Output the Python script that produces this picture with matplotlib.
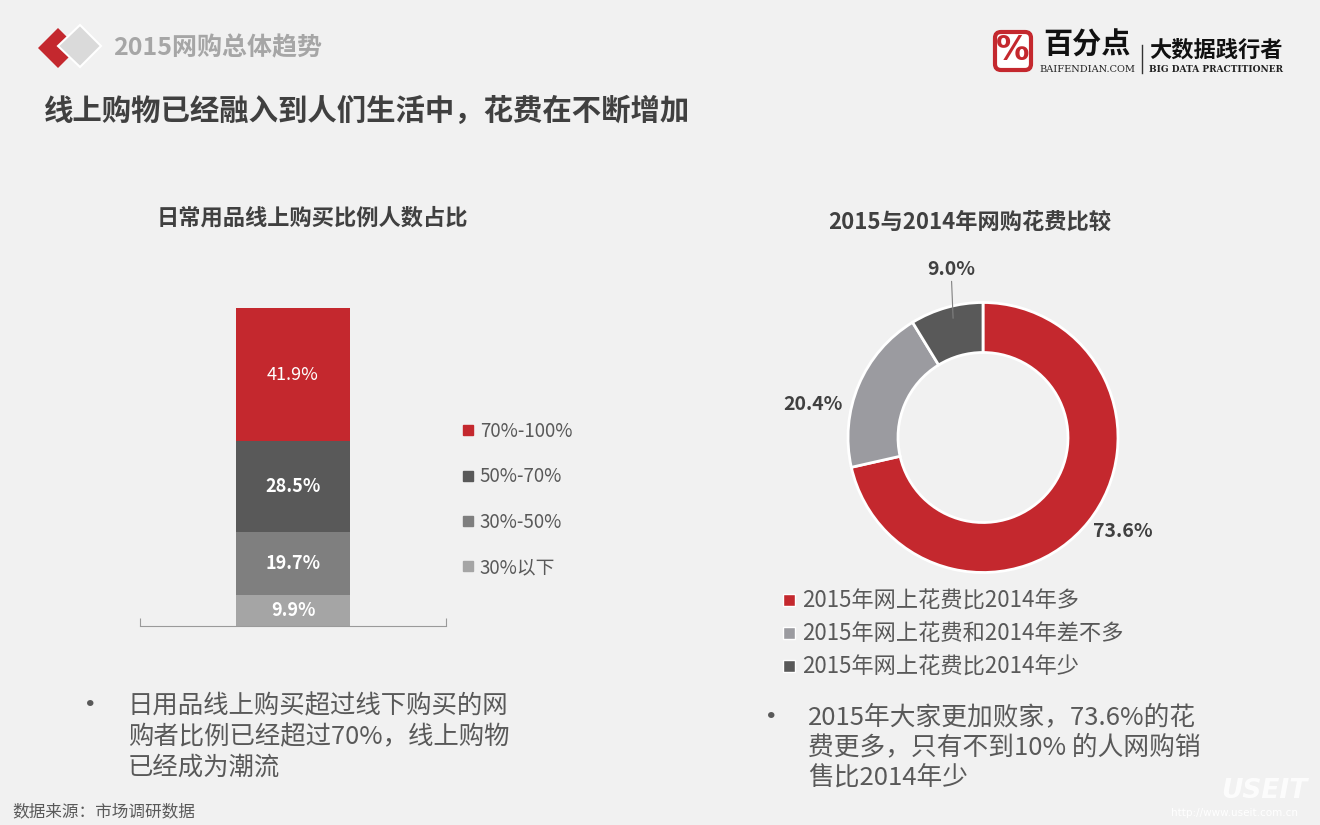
import numpy as np
import matplotlib.pyplot as plt
from matplotlib.lines import Line2D
from matplotlib.patches import Polygon, FancyBboxPatch

plt.rcParams['font.family'] = ['Noto Sans CJK SC', 'DejaVu Sans']

# left chart: share of daily goods bought online
share_groups = ['30%以下', '30%-50%', '50%-70%', '70%-100%']
share_values = [9.9, 19.7, 28.5, 41.9]
share_colors = ['#A5A5A5', '#7F7F7F', '#595959', '#C4282E']

# right chart: 2015 vs 2014 online spending
spend_groups = ['2015年网上花费比2014年多', '2015年网上花费和2014年差不多', '2015年网上花费比2014年少']
spend_values = [73.6, 20.4, 9.0]
spend_colors = ['#C4282E', '#9B9BA0', '#595959']

W, H = 1320, 825
fig = plt.figure(figsize=(W / 100, H / 100), dpi=100)
fig.patch.set_facecolor('#F1F1F1')

# pixel-coordinate layer for headings and decoration
bg = fig.add_axes([0, 0, 1, 1])
bg.set_xlim(0, W)
bg.set_ylim(H, 0)
bg.axis('off')

dark = '#404040'
mid = '#595959'

# header logo
bg.add_patch(Polygon([(38, 48), (58, 28), (78, 48), (58, 68)], closed=True, fc='#C4282E', ec='none'))
bg.add_patch(Polygon([(58, 46), (80, 25), (101, 46), (80, 67)], closed=True, fc='#DADADA', ec='white', lw=1.5))
bg.text(113, 48, '2015网购总体趋势', fontsize=18, weight='bold', color='#A6A6A6', va='center')
bg.text(44, 111, '线上购物已经融入到人们生活中，花费在不断增加', fontsize=21.2, weight='bold', color=dark, va='center')

# brand logo, top right
bg.add_patch(FancyBboxPatch((995, 32), 36, 38, boxstyle='round,pad=0,rounding_size=6',
                            fc='white', ec='#C4282E', lw=3))
bg.text(1013, 51, '%', fontsize=24, weight='bold', color='#C4282E', ha='center', va='center',
        family='DejaVu Sans')
bg.text(1087, 45, '百分点', fontsize=21, weight='bold', color='#111111', ha='center', va='center')
bg.text(1087, 69, 'BAIFENDIAN.COM', fontsize=7, color='#222222', ha='center', va='center', family='DejaVu Serif')
bg.plot([1142, 1142], [45, 73], color='#333333', lw=1)
bg.text(1216, 50, '大数据践行者', fontsize=16, weight='bold', color='#111111', ha='center', va='center')
bg.text(1216, 69, 'BIG DATA PRACTITIONER', fontsize=6.5, weight='bold', color='#222222', ha='center',
        va='center', family='DejaVu Serif')

# chart titles
bg.text(312, 218, '日常用品线上购买比例人数占比', fontsize=16, weight='bold', color=dark, ha='center', va='center')
bg.text(970, 222, '2015与2014年网购花费比较', fontsize=16, weight='bold', color=dark, ha='center', va='center')

# ---- stacked bar ----
ax = fig.add_axes([140 / W, (H - 626) / H, 306 / W, 318 / H])
ax.patch.set_alpha(0)
bottoms = np.concatenate([[0], np.cumsum(share_values)[:-1]])
for i, (name, v, c, b) in enumerate(zip(share_groups, share_values, share_colors, bottoms)):
    bars = ax.bar(0, v, width=0.745, bottom=b, color=c, label=name)
    weight = 'normal' if i == len(share_values) - 1 else 'bold'
    ax.bar_label(bars, labels=[f'{v:.1f}%'], label_type='center', color='white', fontsize=13, weight=weight)
ax.set_xlim(-1, 1)
ax.set_ylim(0, 100)
for s in ['left', 'right', 'top']:
    ax.spines[s].set_visible(False)
ax.spines['bottom'].set_color('#9A9A9A')
ax.set_yticks([])
ax.set_xticks([-1, 1])
ax.tick_params(axis='x', direction='in', length=6, color='#9A9A9A', labelbottom=False)

handles = [Line2D([], [], ls='', marker='s', markersize=7.5, color=c) for c in share_colors]
ax.legend(handles[::-1], share_groups[::-1], loc='center left', bbox_to_anchor=(1.055, 0.398),
          frameon=False, fontsize=13.5, labelcolor=mid, labelspacing=1.3, handlelength=0.6,
          handletextpad=0.3, borderpad=0, borderaxespad=0)

# ---- donut ----
R = 135
ax2 = fig.add_axes([(983 - 1.5 * R) / W, (H - 437.5 - 1.5 * R) / H, 3 * R / W, 3 * R / H])
ax2.patch.set_alpha(0)
wedges, _ = ax2.pie(spend_values, colors=spend_colors, startangle=90, counterclock=False,
                    wedgeprops=dict(width=50 / R, edgecolor='white', linewidth=2))
ax2.set_xlim(-1.5, 1.5)
ax2.set_ylim(-1.5, 1.5)

label_shift = [4.6, 12, -5]
label_r = [1.25, 1.28, 1.27]
for w, v, sh, r in zip(wedges, spend_values, label_shift, label_r):
    m = (w.theta1 + w.theta2) / 2
    a = np.deg2rad(m + sh)
    pos = (r * np.cos(a), r * np.sin(a))
    if v < 10:
        am = np.deg2rad(m)
        ax2.annotate(f'{v:.1f}%', xy=(0.8 * np.cos(am), 0.8 * np.sin(am)), xytext=pos,
                     ha='center', va='center', fontsize=14, weight='bold', color=dark,
                     arrowprops=dict(arrowstyle='-', color='#808080', lw=0.8, shrinkA=0, shrinkB=11))
    else:
        ax2.text(*pos, f'{v:.1f}%', ha='center', va='center', fontsize=14, weight='bold', color=dark)

handles2 = [Line2D([], [], ls='', marker='s', markersize=8.5, color=c, markeredgecolor='white',
                   markeredgewidth=1) for c in spend_colors]
ax2.legend(handles2, spend_groups, loc='center left', bbox_to_anchor=(0.005, 0.015), frameon=False,
           fontsize=16, labelcolor=mid, labelspacing=0.45, handlelength=0.6, handletextpad=0.3,
           borderpad=0, borderaxespad=0)

# ---- notes ----
left_note = ['日用品线上购买超过线下购买的网', '购者比例已经超过70%，线上购物', '已经成为潮流']
right_note = ['2015年大家更加败家，73.6%的花', '费更多，只有不到10% 的人网购销', '售比2014年少']
bg.text(90, 706, '•', fontsize=22, color=mid, ha='center', va='center')
for k, line in enumerate(left_note):
    bg.text(128, 706 + 31 * k, line, fontsize=18.3, color=mid, va='center')
bg.text(771, 717, '•', fontsize=22, color=mid, ha='center', va='center')
for k, line in enumerate(right_note):
    bg.text(808, 717 + 30.5 * k, line, fontsize=18.5, color=mid, va='center')

bg.text(12, 812, '数据来源：市场调研数据', fontsize=12, color=mid, va='center')

# watermark
bg.text(1264, 791, 'USEIT', fontsize=19, style='italic', weight='bold', color='white', ha='center',
        va='center', family='DejaVu Sans', alpha=0.85)
bg.text(1234, 813, 'http://www.useit.com.cn', fontsize=7.5, color='white', ha='center', va='center',
        family='DejaVu Sans')

fig.savefig('out.png', dpi=100, facecolor=fig.get_facecolor())
